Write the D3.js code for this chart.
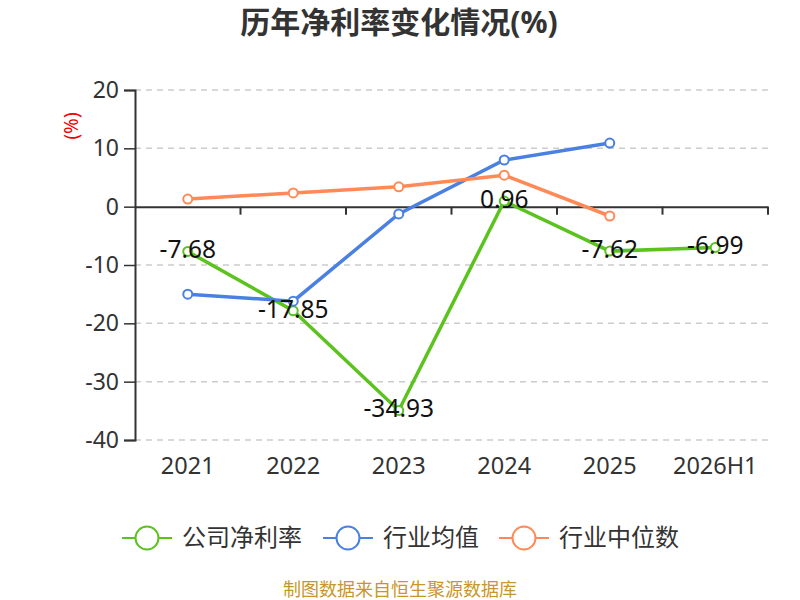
<!DOCTYPE html>
<html>
<head>
<meta charset="utf-8">
<script src="https://cdn.jsdelivr.net/npm/d3@7"></script>
<style>
  body { margin: 0; background: #fff; }
  svg { font-family: "Noto Sans", "Noto Sans CJK SC", sans-serif; }
</style>
</head>
<body>
<svg width="800" height="600"></svg>
<script>
let categories = ["2021", "2022", "2023", "2024", "2025", "2026H1"]
let gongsi = [-7.68, -17.85, -34.93, 0.96, -7.62, -6.99]
let junzhi = [-15.0, -16.2, -1.25, 8.0, 10.9, null]
let zhongwei = [1.3, 2.35, 3.4, 5.4, -1.6, null]
let yTicks = [20, 10, 0, -10, -20, -30, -40]

let series = [
  { name: "公司净利率", values: gongsi, color: "#5bc21e" },
  { name: "行业均值", values: junzhi, color: "#4a80e2" },
  { name: "行业中位数", values: zhongwei, color: "#ff8a57" }
]

let svg = d3.select("svg")
let gauche = 135, droite = 768, haut = 90, bas = 440

let x = d3.scaleBand().domain(categories).range([gauche, droite])
let y = d3.scaleLinear().domain([-40, 20]).range([bas, haut])

// titre
svg.append("text")
  .attr("x", 399).attr("y", 33)
  .attr("text-anchor", "middle")
  .attr("font-size", 30).attr("font-weight", "bold")
  .attr("fill", "#333")
  .text("历年净利率变化情况(%)")

svg.append("text")
  .attr("transform", "translate(78,126)rotate(-90)")
  .attr("text-anchor", "middle")
  .attr("font-size", 19)
  .attr("fill", "#e00")
  .text("(%)")

// grille
svg.append("g").selectAll("line")
  .data(yTicks.filter(d => d != 0))
  .join("line")
  .attr("x1", gauche).attr("x2", droite)
  .attr("y1", d => y(d)).attr("y2", d => y(d))
  .attr("stroke", "#ccc")
  .attr("stroke-width", 1.5)
  .attr("stroke-dasharray", "6,5")

// axe y
let gy = svg.append("g")
  .attr("transform", `translate(${gauche},0)`)
  .call(d3.axisLeft(y).tickValues(yTicks).tickSize(11).tickPadding(5).tickFormat(d => String(d)))
gy.select(".domain").attr("stroke", "#333").attr("stroke-width", 2)
gy.selectAll(".tick line").attr("stroke", "#333").attr("stroke-width", 1.5)
gy.selectAll("text").attr("font-size", 23).attr("fill", "#333")
  .attr("font-family", "Noto Sans")

// axe x sur zero
let gx = svg.append("g")
  .attr("transform", `translate(0,${y(0)})`)
  .call(d3.axisBottom(x).tickSize(0).tickFormat(""))
gx.select(".domain").attr("stroke", "#333").attr("stroke-width", 2)
svg.append("g").selectAll("line")
  .data(categories)
  .join("line")
  .attr("x1", d => x(d) + x.step())
  .attr("x2", d => x(d) + x.step())
  .attr("y1", y(0)).attr("y2", y(0) + 8)
  .attr("stroke", "#333").attr("stroke-width", 2)

svg.append("g").selectAll("text")
  .data(categories)
  .join("text")
  .attr("x", d => x(d) + x.bandwidth() / 2)
  .attr("y", 474)
  .attr("text-anchor", "middle")
  .attr("font-size", 23.5).attr("fill", "#333")
  .text(d => d)

// courbes
let line = d3.line()
  .defined(d => d.v != null)
  .x(d => x(d.c) + x.bandwidth() / 2)
  .y(d => y(d.v))

series.forEach(s => {
  let pts = categories.map((c, i) => ({ c: c, v: s.values[i] }))
  svg.append("path")
    .datum(pts)
    .attr("d", line)
    .attr("fill", "none")
    .attr("stroke", s.color)
    .attr("stroke-width", 3.5)
  svg.append("g").selectAll("circle")
    .data(pts.filter(d => d.v != null))
    .join("circle")
    .attr("cx", d => x(d.c) + x.bandwidth() / 2)
    .attr("cy", d => y(d.v))
    .attr("r", 4.5)
    .attr("fill", "#fff")
    .attr("stroke", s.color)
    .attr("stroke-width", 2)
})

// etiquettes
let g0 = series[0]
svg.append("g").selectAll("text")
  .data(categories.map((c, i) => ({ c: c, v: g0.values[i] })))
  .join("text")
  .attr("x", d => x(d.c) + x.bandwidth() / 2)
  .attr("y", d => y(d.v) + 7)
  .attr("text-anchor", "middle")
  .attr("font-size", 24.5).attr("fill", "#111")
  .text(d => d.v.toFixed(2))

// legende
let leg = svg.append("g")
let legX = [122, 323, 499]
series.forEach((s, i) => {
  let g = leg.append("g").attr("transform", `translate(${legX[i]},538)`)
  g.append("line").attr("x1", 0).attr("x2", 50).attr("stroke", s.color).attr("stroke-width", 2)
  g.append("circle").attr("cx", 25).attr("r", 11.5)
    .attr("fill", "#fff").attr("stroke", s.color).attr("stroke-width", 2)
  g.append("text").attr("x", 60).attr("y", 8)
    .attr("font-size", 24).attr("fill", "#333")
    .text(s.name)
})

svg.append("text")
  .attr("x", 400).attr("y", 596)
  .attr("text-anchor", "middle")
  .attr("font-size", 18)
  .attr("fill", "#c8962a")
  .text("制图数据来自恒生聚源数据库")
</script>
</body>
</html>
